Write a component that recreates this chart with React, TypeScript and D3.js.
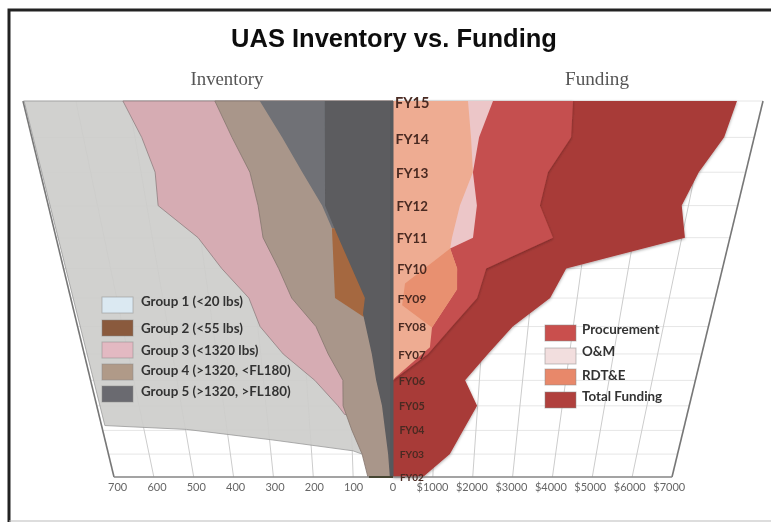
import React from "react";
import * as d3 from "d3";

const fyLabels = ["FY02", "FY03", "FY04", "FY05", "FY06", "FY07", "FY08", "FY09", "FY10", "FY11", "FY12", "FY13", "FY14", "FY15"];
const fyYears = [2002, 2003, 2004, 2005, 2006, 2007, 2008, 2009, 2010, 2011, 2012, 2013, 2014, 2015];
const inventoryTicks = [100, 200, 300, 400, 500, 600, 700];
const fundingTicks = [0, 1000, 2000, 3000, 4000, 5000, 6000, 7000];

// inventory series (years can fall between two rows)
const group1Years = [2015, 2004.2, 2004.04, 2003.6, 2003.14, 2003];
const group1Values = [698, 692, 497, 292, 98, 76];
const group3Years = [2015, 2014, 2013, 2012, 2011, 2010, 2009, 2008, 2007, 2006, 2005, 2004.65];
const group3Values = [511, 487, 472, 477, 405, 364, 313, 295, 249, 181, 130, 115];
const group4Years = [2015, 2014, 2013, 2012, 2011, 2010, 2009, 2008, 2007, 2006, 2005, 2004, 2003, 2002];
const group4Values = [337, 312, 284, 274, 270, 243, 220, 171, 147, 116, 118, 99, 76, 63];
const group5Years = [2015, 2014, 2013, 2012, 2011.3];
const group5Values = [252, 215, 180, 144, 126];
const group2Years = [2011.3, 2009, 2008.36];
const group2Values = [126, 126, 66];
const group5CoreYears = [2015, 2014, 2013, 2012, 2011.1, 2009, 2008.45, 2007, 2006, 2005, 2004, 2003, 2002];
const group5CoreValues = [129, 132, 135, 138, 116, 61, 66, 48, 39, 26, 19, 12, 8];

// funding series
const totalYears = fyYears.slice().reverse();
const totalValues = [6508, 6418, 6068, 5864, 6065, 3681, 3413, 2658, 2152, 1669, 1987, 1690, 1400, 753];
const procurementYears = [2015, 2014, 2013, 2012, 2011, 2010, 2009, 2008, 2007, 2006];
const procurementValues = [3406, 3451, 3074, 2983, 3323, 1979, 1826, 1307, 793, 0];
const omYears = [2015, 2014, 2013, 2012, 2011, 2010.65];
const omValues = [1892, 1668, 1586, 1704, 1662, 1197];
const baseFundYears = [2015, 2014, 2013, 2012, 2011, 2010.65, 2010, 2009.3, 2007.97, 2007.25, 2006.1, 2006];
const baseFundValues = [1419, 1512, 1586, 1359, 1225, 1197, 1362, 1382, 866, 833, 46, 0];
const rdteYears = [2010.65, 2010, 2009.3, 2007.97, 2008.75, 2009.5];
const rdteValues = [1197, 1362, 1382, 866, 200, 258];

const legendLeft = ["Group 1 (<20 lbs)", "Group 2 (<55 lbs)", "Group 3 (<1320 lbs)", "Group 4 (>1320, <FL180)", "Group 5 (>1320, >FL180)"];
const legendLeftColors = ["#dbe9f2", "#8a5a3c", "#e3b9c2", "#b09a88", "#6b6b70"];
const legendRight = ["Procurement", "O&M", "RDT&E", "Total Funding"];
const legendRightColors = ["#c9504e", "#f2dede", "#e8886a", "#b0403c"];

const centerX = 393;
const depth = 0.285; // perspective squeeze of the year axis

const yearT = d3.scaleLinear().domain([2002, 2015]).range([0, 1]);
const rowY = d3.scaleLinear().domain([0, 1]).range([477, 101]);
const halfWidth = d3.scaleLinear().domain([0, 1]).range([279, 370]);
const inventoryScale = d3.scaleLinear().domain([0, 700]).range([0, -1]);
const fundingScale = d3.scaleLinear().domain([0, 7000]).range([0, 1]);

const rowFrac = (year: number) => {
  const t = yearT(year);
  return t / (1 + depth * (1 - t));
};
const projectX = (year: number, share: number) => centerX + share * halfWidth(rowFrac(year));

const polygon = d3.line<[number, number]>().curve(d3.curveLinearClosed);

function shape(years: number[], values: number[], scale: d3.ScaleLinear<number, number>, closed = false) {
  const pts: [number, number][] = years.map((yr, i) => [projectX(yr, scale(values[i])), rowY(rowFrac(yr))]);
  if (!closed) {
    pts.push([centerX, rowY(rowFrac(years[years.length - 1]))]);
    pts.push([centerX, rowY(rowFrac(years[0]))]);
  }
  return polygon(pts) as string;
}

const Swatch = ({ x, y, fill, label, textY }: any) => (
  <g>
    <rect x={x} y={y} width={31} height={16} fill={fill} stroke="#888" strokeOpacity={0.5} />
    <text x={x + (label.startsWith("Group") ? 39 : 37)} y={textY} dominantBaseline="middle" fontFamily="Lato" fontWeight={700} fontSize={13.4} fill="#333">
      {label}
    </text>
  </g>
);

export default function App() {
  const leftSwatchY = [297, 320, 342, 364, 386];
  const leftTextY = [303, 330, 352, 372, 393];
  const rightSwatchY = [325, 348, 369, 392];
  const rightTextY = [331, 353, 377, 398];

  const inv = inventoryScale;
  const fund = fundingScale;

  return (
    <svg width={771} height={522} style={{ position: "absolute", left: 0, top: 0, background: "#fff" }}>
      <defs>
        <filter id="soft" x="-5%" y="-5%" width="110%" height="110%">
          <feGaussianBlur stdDeviation={0.55} />
        </filter>
        <filter id="shadow" x="-10%" y="-10%" width="120%" height="120%">
          <feDropShadow dx={0} dy={1} stdDeviation={1.4} floodColor="#000" floodOpacity={0.35} />
        </filter>
      </defs>

      <g filter="url(#soft)">
        {/* frame */}
        <path d="M9,522V10H771" fill="none" stroke="#222" strokeWidth={3} />
        <line x1={9} x2={771} y1={521} y2={521} stroke="#bbb" strokeWidth={1} />

        <text x={394} y={47} textAnchor="middle" fontFamily="Liberation Sans" fontWeight={700} fontSize={25.5} fill="#111">
          UAS Inventory vs. Funding
        </text>
        <text x={227} y={85} textAnchor="middle" fontFamily="Liberation Serif" fontSize={18.8} fill="#555">
          Inventory
        </text>
        <text x={597} y={85} textAnchor="middle" fontFamily="Liberation Serif" fontSize={19.2} fill="#555">
          Funding
        </text>

        {/* grid */}
        {fyYears.map((yr) => (
          <g key={yr}>
            <line x1={projectX(yr, -1)} x2={projectX(yr, 1)} y1={rowY(rowFrac(yr))} y2={rowY(rowFrac(yr))} stroke="#e6e6e6" />
          </g>
        ))}
        {inventoryTicks.map((v) => (
          <line key={v} x1={projectX(2002, inv(v))} x2={projectX(2015, inv(v))} y1={rowY(0)} y2={rowY(1)} stroke={v === 700 ? "#777" : "#ccc"} strokeWidth={v === 700 ? 1.6 : 1} />
        ))}
        {fundingTicks.map((v) => (
          <line key={v} x1={projectX(2002, fund(v))} x2={projectX(2015, fund(v))} y1={rowY(0)} y2={rowY(1)} stroke={v === 7000 ? "#777" : "#ccc"} strokeWidth={v === 7000 ? 1.6 : 1} />
        ))}

        {/* inventory */}
        <path d={shape(group1Years, group1Values, inv)} fill="#cdcdcb" fillOpacity={0.93} stroke="#999" strokeWidth={0.8} />
        <path d={shape(group3Years, group3Values, inv)} fill="#d6acb3" stroke="#8f7f80" strokeWidth={0.8} />
        <path d={shape(group4Years, group4Values, inv)} fill="#a9968a" stroke="#85766e" strokeWidth={0.8} />
        <path d={shape(group5Years, group5Values, inv)} fill="#6f7176" />
        <path d={shape(group2Years, group2Values, inv)} fill="#a5683f" />
        <path d={shape(group5CoreYears, group5CoreValues, inv)} fill="#5b5b5e" />

        {/* funding */}
        <path d={shape(totalYears, totalValues, fund)} fill="#a83a38" filter="url(#shadow)" />
        <path d={shape(procurementYears, procurementValues, fund)} fill="#c5504f" filter="url(#shadow)" />
        <path d={shape(omYears, omValues, fund)} fill="#ecc6c8" />
        <path d={shape(baseFundYears, baseFundValues, fund)} fill="#eeac92" />
        <path d={shape(rdteYears, rdteValues, fund, true)} fill="#e8906f" />

        {/* axes */}
        <line x1={centerX - 1} x2={centerX - 1} y1={rowY(1)} y2={rowY(0)} stroke="#55585c" strokeWidth={3} />
        <line x1={projectX(2002, -1)} x2={projectX(2002, 1)} y1={rowY(0)} y2={rowY(0)} stroke="#888" strokeWidth={1.5} />
        <line x1={projectX(2002, inv(60))} x2={centerX} y1={rowY(0)} y2={rowY(0)} stroke="#443" strokeWidth={2} />

        {inventoryTicks.map((v) => (
          <text key={v} x={projectX(2002, inv(v) * 0.987)} y={488} textAnchor="middle" dominantBaseline="middle" fontFamily="Lato" fontSize={11} fill="#666">
            {v}
          </text>
        ))}
        {fundingTicks.map((v) => (
          <text key={v} x={projectX(2002, fund(v) * 0.99)} y={488} textAnchor="middle" dominantBaseline="middle" fontFamily="Lato" fontSize={11} fill="#666">
            {v === 0 ? "0" : `$${v}`}
          </text>
        ))}

        {fyLabels.map((lab, i) => {
          const frac = rowFrac(fyYears[i]);
          return (
            <text
              key={lab}
              x={400 - 5 * frac}
              y={rowY(frac) + 1 + 2 * frac}
              dominantBaseline="middle"
              fontFamily="Lato"
              fontWeight={700}
              fontSize={10 + 4.5 * frac}
              fill="#4a2a22"
            >
              {lab}
            </text>
          );
        })}

        {legendLeft.map((lab, i) => (
          <Swatch key={lab} x={102} y={leftSwatchY[i]} fill={legendLeftColors[i]} label={lab} textY={leftTextY[i]} />
        ))}
        {legendRight.map((lab, i) => (
          <Swatch key={lab} x={545} y={rightSwatchY[i]} fill={legendRightColors[i]} label={lab} textY={rightTextY[i]} />
        ))}
      </g>
    </svg>
  );
}
